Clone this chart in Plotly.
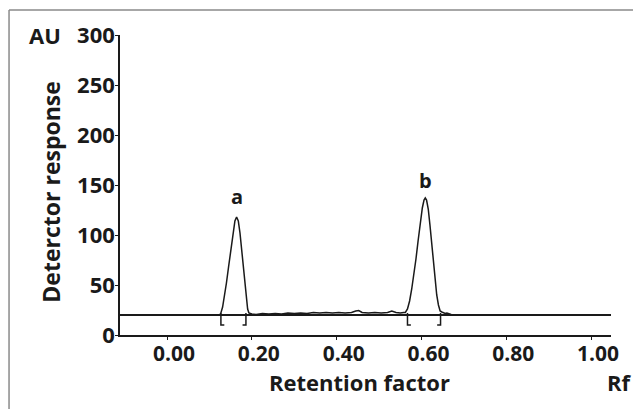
import plotly.graph_objects as go

# ---- data ----
rf = [0.125, 0.127, 0.131, 0.135, 0.140, 0.145, 0.150, 0.155, 0.160, 0.164,
      0.168, 0.172, 0.176, 0.180, 0.184, 0.187, 0.190, 0.193, 0.197,
      0.200, 0.210, 0.225, 0.240, 0.255, 0.270, 0.285, 0.300, 0.315, 0.330,
      0.345, 0.360, 0.375, 0.390, 0.405, 0.420, 0.435, 0.445, 0.452, 0.460,
      0.475, 0.490, 0.505, 0.520, 0.530, 0.540, 0.550, 0.558,
      0.562, 0.567, 0.572, 0.577, 0.582, 0.587, 0.592, 0.597, 0.602, 0.606,
      0.609, 0.612, 0.616, 0.620, 0.624, 0.628, 0.632, 0.636, 0.640, 0.644,
      0.648, 0.652, 0.656, 0.660, 0.665, 0.670, 0.676]
response = [21, 22, 28, 38, 52, 68, 85, 102, 114, 118,
            114, 102, 86, 68, 50, 36, 26, 22, 21,
            21, 20.5, 21.5, 21, 21.5, 21, 22, 21.5, 22, 21.5,
            22.5, 22, 22.5, 22, 22.5, 22, 22.5, 24, 24.5, 22.5,
            22, 22.5, 22, 22.5, 24, 22.5, 22, 22.5,
            22.5, 26, 34, 46, 60, 76, 94, 112, 127, 135,
            137, 135, 126, 110, 92, 72, 54, 40, 30, 24,
            23, 22.5, 21.5, 22, 21, 20.5, 20]

baseline_level = 20
peak_labels = ["a", "b"]
peak_rf = [0.165, 0.609]
peak_label_y = [139, 155]
peak_bounds = [[0.127, 0.186], [0.567, 0.645]]
bracket_bottom = 10
bracket_top = 22

x_ticks = [0.0, 0.2, 0.4, 0.6, 0.8, 1.0]
x_ticktext = ["0.00", "0.20", "0.40", "0.60", "0.80", "1.00"]
y_ticks = [0, 50, 100, 150, 200, 250, 300]

x_range = [-0.111, 1.047]
y_range = [0, 300]

FONT = "Open Sans"
ink = "#1a1a1a"

fig = go.Figure()

# baseline
fig.add_trace(go.Scatter(x=x_range, y=[baseline_level, baseline_level], mode="lines",
                         line=dict(color=ink, width=2), hoverinfo="skip", showlegend=False))

# brackets marking integration limits
serif = 0.008
bx, by = [], []
for lo, hi in peak_bounds:
    bx += [lo + serif, lo, lo, None, hi - serif, hi, hi, None]
    by += [bracket_bottom, bracket_bottom, bracket_top, None,
           bracket_bottom, bracket_bottom, bracket_top, None]
fig.add_trace(go.Scatter(x=bx, y=by, mode="lines", line=dict(color=ink, width=1.5),
                         hoverinfo="skip", showlegend=False))

# chromatogram
fig.add_trace(go.Scatter(x=rf, y=response, mode="lines",
                         line=dict(color=ink, width=1.5), showlegend=False))

for lab, px, py in zip(peak_labels, peak_rf, peak_label_y):
    fig.add_annotation(x=px, y=py, text=f"<b>{lab}</b>", showarrow=False,
                       font=dict(family=FONT, size=20, color=ink), yanchor="middle")

# axis captions
fig.add_annotation(xref="paper", yref="paper", x=-0.153, y=1.0, text="<b>AU</b>",
                   showarrow=False, font=dict(family=FONT, size=22, color=ink),
                   xanchor="center", yanchor="middle")
fig.add_annotation(xref="paper", yref="paper", x=-0.141, y=0.477, text="<b>Deterctor response</b>",
                   textangle=-90, showarrow=False, font=dict(family=FONT, size=23, color=ink),
                   xanchor="center", yanchor="middle")
fig.add_annotation(xref="paper", yref="paper", x=0.488, y=-0.158, text="<b>Retention factor</b>",
                   showarrow=False, font=dict(family=FONT, size=22, color=ink),
                   xanchor="center", yanchor="middle")
fig.add_annotation(xref="paper", yref="paper", x=1.018, y=-0.158, text="<b>Rf</b>",
                   showarrow=False, font=dict(family=FONT, size=22, color=ink),
                   xanchor="center", yanchor="middle")

# outer frame (top and left edges)
fig.add_shape(type="line", xref="paper", yref="paper", x0=-0.226, x1=1.07, y0=1.0833, y1=1.0833,
              line=dict(color="#8a8a8a", width=1.5))
fig.add_shape(type="line", xref="paper", yref="paper", x0=-0.226, x1=-0.226, y0=1.0833, y1=-0.26,
              line=dict(color="#8a8a8a", width=1.5))

# page body has an 8px margin, so the figure is sized to fill the rest of the window
fig.update_layout(
    width=633, height=401,
    margin=dict(l=112, r=30, t=27, b=74),
    paper_bgcolor="white", plot_bgcolor="white",
    font=dict(family=FONT, color=ink),
    xaxis=dict(range=x_range, tickvals=x_ticks, ticktext=[f"<b>{t}</b>" for t in x_ticktext],
               showgrid=False, zeroline=False, showline=True, linecolor=ink, linewidth=2,
               ticks="outside", ticklen=3, tickcolor=ink, ticklabelshift=7,
               ticklabelstandoff=-4,
               tickfont=dict(family=FONT, size=21, color=ink)),
    yaxis=dict(range=y_range, tickvals=y_ticks, ticktext=[f"<b>{v}</b>" for v in y_ticks],
               showgrid=False, zeroline=False, showline=True, linecolor=ink, linewidth=1.5,
               ticks="outside", ticklen=3, tickcolor=ink, ticklabelstandoff=-4,
               tickfont=dict(family=FONT, size=22, color=ink)),
)

fig.write_html("out.html")
